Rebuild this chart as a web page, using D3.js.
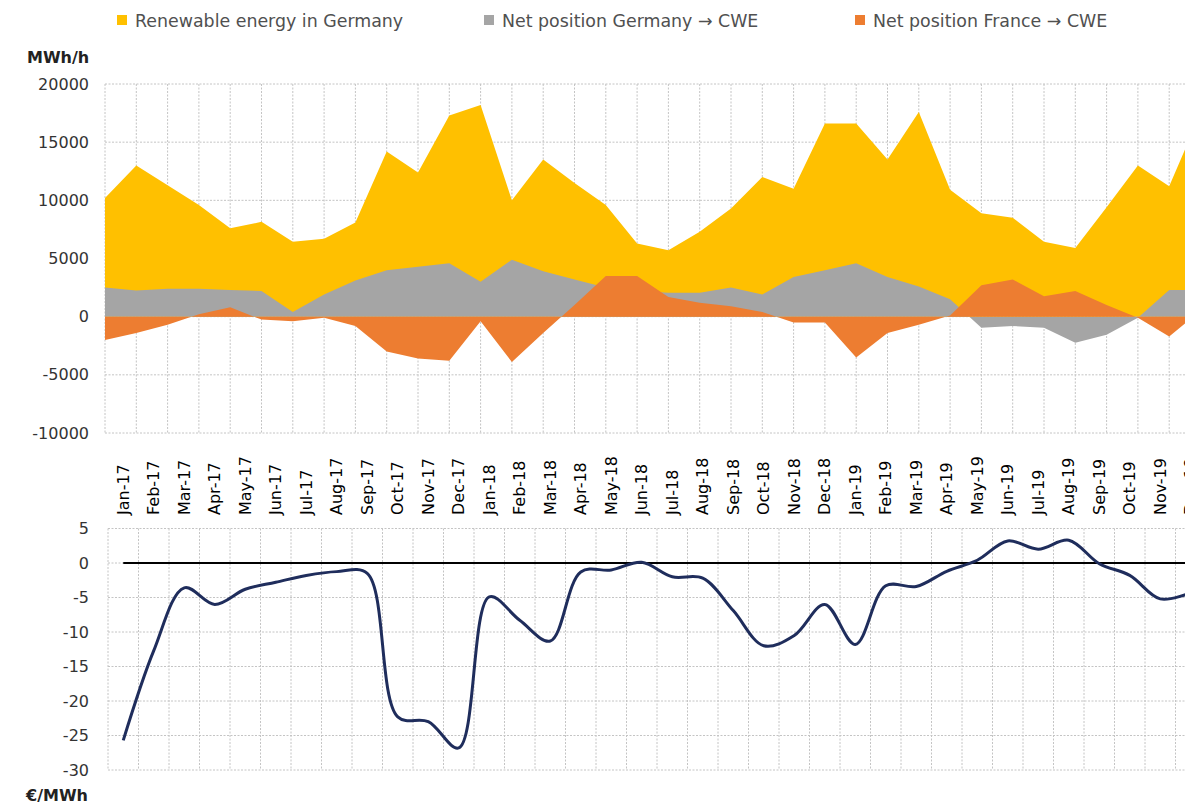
<!DOCTYPE html>
<html>
<head>
<meta charset="utf-8">
<script src="https://cdn.jsdelivr.net/npm/d3@7"></script>
<style>
  body { margin: 0; background: #fff; }
  svg { display: block; font-family: "DejaVu Sans", sans-serif; }
</style>
</head>
<body>
<div id="chart"></div>
<script>
var months = ["Jan-17","Feb-17","Mar-17","Apr-17","May-17","Jun-17","Jul-17","Aug-17","Sep-17","Oct-17","Nov-17","Dec-17",
              "Jan-18","Feb-18","Mar-18","Apr-18","May-18","Jun-18","Jul-18","Aug-18","Sep-18","Oct-18","Nov-18","Dec-18",
              "Jan-19","Feb-19","Mar-19","Apr-19","May-19","Jun-19","Jul-19","Aug-19","Sep-19","Oct-19","Nov-19","Dec-19"];

// MWh/h
var renewable = [10200, 13000, 11300, 9600, 7600, 8150, 6450, 6700, 8100, 14200, 12400, 17300,
                 18200, 10000, 13500, 11500, 9600, 6300, 5700, 7300, 9300, 12000, 11000, 16600,
                 16600, 13500, 17600, 10900, 8900, 8500, 6450, 5900, 9400, 13000, 11200, 17500];
var netGermany = [2500, 2250, 2400, 2400, 2300, 2200, 400, 1900, 3100, 4000, 4300, 4600,
                  3000, 4900, 3900, 3200, 2500, 2200, 2050, 2050, 2500, 1900, 3400, 4000,
                  4600, 3400, 2600, 1500, -950, -800, -950, -2250, -1550, -100, 2300, 2300];
var netFrance = [-2000, -1400, -700, 200, 800, -250, -400, -100, -800, -3000, -3600, -3800,
                 -400, -3900, -1400, 1000, 3500, 3500, 1700, 1200, 900, 400, -500, -500,
                 -3500, -1400, -700, 100, 2700, 3200, 1750, 2200, 1000, -100, -1700, 500];

// EUR/MWh
var spread = [-25.7, -12.7, -3.6, -6.0, -3.8, -2.8, -1.8, -1.25, -1.5, -22.3, -23.0, -26.8,
              -4.9, -8.3, -11.3, -1.3, -1.0, 0.1, -2.0, -2.2, -6.9, -12.0, -10.5, -6.0,
              -11.8, -3.3, -3.4, -1.2, 0.4, 3.2, 2.0, 3.3, -0.1, -1.8, -5.2, -4.3];

var topTicks = [-10000, -5000, 0, 5000, 10000, 15000, 20000];
var bottomTicks = [-30, -25, -20, -15, -10, -5, 0, 5];

var legendItems = [
  { name: "Renewable energy in Germany", color: "#FFC000", x: 117 },
  { name: "Net position Germany \u2192 CWE", color: "#A5A5A5", x: 484 },
  { name: "Net position France \u2192 CWE", color: "#ED7D31", x: 855 }
];

var width = 1185, height = 807;
var gridColor = "#c4c4c4";
var plain = function(d) { return String(d); };   // "-10000", no thousands comma

var svg = d3.select("#chart").append("svg")
    .attr("width", width)
    .attr("height", height);

// legend
var legend = svg.selectAll(".legend").data(legendItems).enter().append("g")
    .attr("transform", function(d) { return "translate(" + d.x + ",0)"; });
legend.append("rect").attr("x", 0).attr("y", 15).attr("width", 10).attr("height", 10)
    .attr("fill", function(d) { return d.color; });
legend.append("text").attr("x", 18).attr("y", 27)
    .attr("font-size", 17.4).attr("fill", "#505050")
    .text(function(d) { return d.name; });

// ---- top chart ----
var xTop = d3.scalePoint().domain(months).range([105, 105 + 35 * 31.3]);
var yTop = d3.scaleLinear().domain([-10000, 20000]).range([433, 84]);
var topRight = xTop(months[months.length - 1]);

var topChart = svg.append("g");

topChart.selectAll(".hgrid").data(topTicks).enter().append("line")
    .attr("x1", 105).attr("x2", topRight)
    .attr("y1", function(d) { return yTop(d); }).attr("y2", function(d) { return yTop(d); })
    .attr("stroke", gridColor).attr("stroke-dasharray", "2,1.5");
topChart.selectAll(".vgrid").data(months).enter().append("line")
    .attr("x1", function(d) { return xTop(d); }).attr("x2", function(d) { return xTop(d); })
    .attr("y1", yTop(20000)).attr("y2", yTop(-10000))
    .attr("stroke", gridColor).attr("stroke-dasharray", "2,1.5");

function areaFor(values) {
  return d3.area()
      .x(function(d, i) { return xTop(months[i]); })
      .y0(yTop(0))
      .y1(function(d) { return yTop(d); })(values);
}

topChart.append("path").attr("d", areaFor(renewable)).attr("fill", "#FFC000");
topChart.append("path").attr("d", areaFor(netGermany)).attr("fill", "#A5A5A5");
topChart.append("path").attr("d", areaFor(netFrance)).attr("fill", "#ED7D31");

var yAxisTop = topChart.append("g")
    .attr("transform", "translate(89,0)")
    .call(d3.axisLeft(yTop).tickValues(topTicks).tickFormat(plain).tickSize(0).tickPadding(0));
yAxisTop.select(".domain").remove();
yAxisTop.selectAll("text").attr("font-size", 16).attr("font-family", "DejaVu Sans").attr("fill", "#333");

svg.append("text").attr("x", 27).attr("y", 63)
    .attr("font-size", 16).attr("font-weight", "bold").attr("fill", "#222")
    .text("MWh/h");

// ---- bottom chart ----
var xBot = d3.scaleBand().domain(months).range([108, 108 + 36 * 30.5]);
var yBot = d3.scaleLinear().domain([-30, 5]).range([770, 528.5]);
var half = xBot.bandwidth() / 2;

var botChart = svg.append("g");

botChart.selectAll(".hgrid").data(bottomTicks).enter().append("line")
    .attr("x1", 108).attr("x2", width)
    .attr("y1", function(d) { return yBot(d); }).attr("y2", function(d) { return yBot(d); })
    .attr("stroke", gridColor).attr("stroke-dasharray", "2,1.5");
botChart.selectAll(".vgrid").data(months).enter().append("line")
    .attr("x1", function(d) { return xBot(d); }).attr("x2", function(d) { return xBot(d); })
    .attr("y1", yBot(5)).attr("y2", yBot(-30))
    .attr("stroke", gridColor).attr("stroke-dasharray", "2,1.5");

botChart.append("line")
    .attr("x1", xBot(months[0]) + half).attr("x2", width)
    .attr("y1", yBot(0)).attr("y2", yBot(0))
    .attr("stroke", "#000").attr("stroke-width", 2);

var line = d3.line()
    .x(function(d, i) { return xBot(months[i]) + half; })
    .y(function(d) { return yBot(d); })
    .curve(d3.curveCatmullRom.alpha(0.5));

botChart.append("path").attr("d", line(spread))
    .attr("fill", "none").attr("stroke", "#1F2D5C").attr("stroke-width", 3);

var yAxisBot = botChart.append("g")
    .attr("transform", "translate(89,0)")
    .call(d3.axisLeft(yBot).tickValues(bottomTicks).tickFormat(plain).tickSize(0).tickPadding(0));
yAxisBot.select(".domain").remove();
yAxisBot.selectAll("text").attr("font-size", 16).attr("font-family", "DejaVu Sans").attr("fill", "#333");

// month labels between the two charts
var xAxis = svg.append("g")
    .attr("transform", "translate(0,515)")
    .call(d3.axisBottom(xBot).tickSize(0));
xAxis.select(".domain").remove();
xAxis.selectAll("text")
    .attr("transform", "rotate(-90)")
    .attr("x", 0).attr("y", 0).attr("dy", "0.35em")
    .attr("text-anchor", "start")
    .attr("font-size", 16).attr("font-family", "DejaVu Sans").attr("fill", "#000");

svg.append("text").attr("x", 26).attr("y", 801)
    .attr("font-size", 16).attr("font-weight", "bold").attr("fill", "#222")
    .text("\u20AC/MWh");
</script>
</body>
</html>
